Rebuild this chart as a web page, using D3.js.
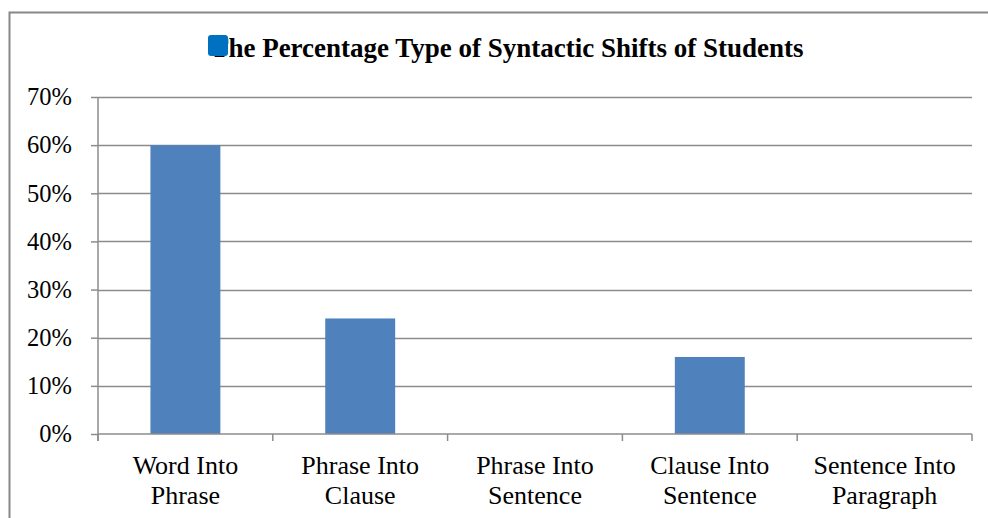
<!DOCTYPE html>
<html>
<head>
<meta charset="utf-8">
<script src="https://cdn.jsdelivr.net/npm/d3@7"></script>
<style>
  body { margin: 0; background: #fff; }
  text { font-family: "Liberation Serif", "Times New Roman", serif; }
</style>
</head>
<body>
<div id="graph"></div>
<script>
var w = 988, h = 518

// data
var categories = [["Word Into", "Phrase"], ["Phrase Into", "Clause"], ["Phrase Into", "Sentence"],
                  ["Clause Into", "Sentence"], ["Sentence Into", "Paragraph"]]
var values = [0.60, 0.24, 0, 0.16, 0]
var yTicks = [0, 0.1, 0.2, 0.3, 0.4, 0.5, 0.6, 0.7]
var title = "The Percentage Type of Syntactic Shifts of Students"

var margin = {top: 97, left: 98, right: 16, bottom: 84}

var svg = d3.select('#graph')
  .append('svg')
  .attr("width", w)
  .attr("height", h)

// outer chart frame (cropped at right/bottom)
svg.append("rect")
  .attr("x", 9.5).attr("y", 12.5)
  .attr("width", 1000).attr("height", 600)
  .attr("fill", "none")
  .attr("stroke", "#888")
  .attr("stroke-width", 2)

var x = d3.scaleBand()
  .domain(d3.range(categories.length))
  .range([margin.left, w - margin.right])
  .paddingInner(0.6).paddingOuter(0.3)

var xOuter = d3.scaleBand()
  .domain(d3.range(categories.length))
  .range([margin.left, w - margin.right])

var y = d3.scaleLinear()
  .domain([0, 0.7])
  .range([h - margin.bottom, margin.top])

// gridlines
svg.append("g")
  .selectAll("line")
  .data(yTicks.slice(1))
  .enter()
  .append("line")
    .attr("x1", margin.left).attr("x2", w - margin.right)
    .attr("y1", d => Math.round(y(d)) + 0.5).attr("y2", d => Math.round(y(d)) + 0.5)
    .attr("stroke", "#8c8c8c")
    .attr("stroke-width", 1.5)

// bars
svg.append("g")
  .selectAll("rect")
  .data(values)
  .enter()
  .append("rect")
    .attr("x", (d, i) => x(i))
    .attr("width", x.bandwidth())
    .attr("y", d => y(d))
    .attr("height", d => y(0) - y(d))
    .attr("fill", "#4F81BD")

// y axis
var yAxis = svg.append("g")
  .attr("transform", "translate(" + margin.left + ",0)")
  .call(d3.axisLeft(y).tickValues(yTicks).tickFormat(d3.format(".0%")).tickSize(7).tickPadding(19))
yAxis.selectAll("line, path").attr("stroke", "#8c8c8c").attr("stroke-width", 1.5)
yAxis.select("path").attr("d", "M0," + y(0.7) + "V" + (y(0) + 7))
yAxis.selectAll("text").attr("font-size", 24.5).attr("fill", "#000")
  .attr("font-family", "Liberation Serif")

// x axis
var xg = svg.append("g")
  .attr("transform", "translate(0," + y(0) + ")")
xg.append("line")
  .attr("x1", margin.left).attr("x2", w - margin.right)
  .attr("stroke", "#8c8c8c").attr("stroke-width", 1.5)
xg.selectAll(".tick")
  .data(d3.range(categories.length + 1))
  .enter()
  .append("line")
    .attr("x1", d => d < categories.length ? xOuter(d) : w - margin.right)
    .attr("x2", d => d < categories.length ? xOuter(d) : w - margin.right)
    .attr("y1", 0).attr("y2", 7)
    .attr("stroke", "#8c8c8c").attr("stroke-width", 1.5)

var labels = xg.selectAll(".lab")
  .data(categories)
  .enter()
  .append("text")
    .attr("text-anchor", "middle")
    .attr("font-size", 26)
    .attr("fill", "#000")
labels.selectAll("tspan")
  .data((d, i) => d.map(t => ({t: t, i: i})))
  .enter()
  .append("tspan")
    .attr("x", d => xOuter(d.i) + xOuter.bandwidth() / 2)
    .attr("y", (d, j) => 40 + j * 30)
    .text(d => d.t)

// title
svg.append("text")
  .attr("x", 507).attr("y", 57)
  .attr("text-anchor", "middle")
  .attr("font-size", 27)
  .attr("font-weight", "bold")
  .text(title)

// stray legend marker over the title
svg.append("rect")
  .attr("x", 208).attr("y", 35)
  .attr("width", 20).attr("height", 21)
  .attr("rx", 3)
  .attr("fill", "#0070C0")
</script>
</body>
</html>
